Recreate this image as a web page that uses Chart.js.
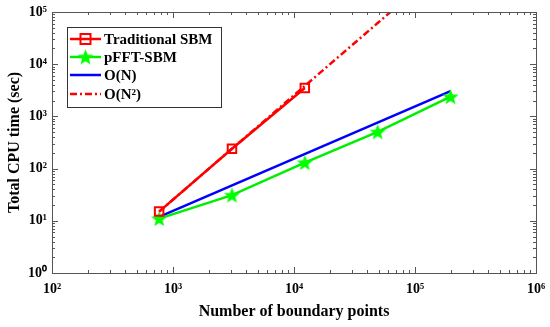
<!DOCTYPE html>
<html>
<head>
<meta charset="utf-8">
<script src="https://cdn.jsdelivr.net/npm/chart.js@4.4.1/dist/chart.umd.min.js"></script>
<style>
  html, body { margin: 0; padding: 0; background: #fff; }
  #wrap { width: 550px; height: 327px; }
</style>
</head>
<body>
<div id="wrap"><canvas id="cpuChart"></canvas></div>
<script>
// values
const tradN = [768, 3072, 12288];
const tradTime = [15, 240, 3500];
const pfftN = [768, 3072, 12288, 49152, 196608];
const pfftTime = [11, 31, 130, 505, 2380];
const linN = [768, 196608];
const linTime = [11.9, 3050];
const quadN = [768, 3072, 12288, 49152, 196608];
const quadTime = [15, 240, 3840, 61440, 983040];

const xTicks = [1e2, 1e3, 1e4, 1e5, 1e6];
const xTickLabels = ['10²', '10³', '10⁴', '10⁵', '10⁶'];
const yTicks = [1e0, 1e1, 1e2, 1e3, 1e4, 1e5];
const yTickLabels = ['10⁰', '10¹', '10²', '10³', '10⁴', '10⁵'];

const FONT = "'Liberation Serif', 'Times New Roman', serif";

const toPts = (xs, ys) => xs.map((x, i) => ({ x: x, y: ys[i] }));

// filled five point star used as marker
function makeStar(r, color) {
    const c = document.createElement('canvas');
    const s = Math.ceil(r * 2 + 2);
    c.width = s; c.height = s;
    const g = c.getContext('2d');
    g.fillStyle = color;
    g.beginPath();
    for (let i = 0; i < 10; i++) {
        const rad = i % 2 === 0 ? r : r * 0.42;
        const a = -Math.PI / 2 + i * Math.PI / 5;
        const px = s / 2 + rad * Math.cos(a), py = s / 2 + rad * Math.sin(a) + r * 0.08;
        if (i === 0) g.moveTo(px, py); else g.lineTo(px, py);
    }
    g.closePath();
    g.fill();
    return c;
}
const star = makeStar(8.5, '#00ff00');

// inward ticks on all four sides, box frame and legend
const framePlugin = {
    id: 'frame',
    afterDraw(chart) {
        const { ctx, chartArea: a, scales } = chart;
        ctx.save();
        ctx.strokeStyle = '#555';
        ctx.lineWidth = 1;
        const tick = (x1, y1, x2, y2) => {
            ctx.beginPath(); ctx.moveTo(x1, y1); ctx.lineTo(x2, y2); ctx.stroke();
        };
        const minors = (lo, hi) => {
            const out = [];
            for (let d = lo; d < hi; d *= 10)
                for (let k = 1; k < 10; k++) out.push({ v: d * k, major: k === 1 });
            out.push({ v: hi, major: true });
            return out;
        };
        minors(1e2, 1e6).forEach(t => {
            const px = Math.round(scales.x.getPixelForValue(t.v)) + 0.5;
            const len = t.major ? 6 : 3;
            tick(px, a.bottom, px, a.bottom - len);
            tick(px, a.top, px, a.top + len);
        });
        minors(1e0, 1e5).forEach(t => {
            const py = Math.round(scales.y.getPixelForValue(t.v)) + 0.5;
            const len = t.major ? 6 : 3;
            tick(a.left, py, a.left + len, py);
            tick(a.right, py, a.right - len, py);
        });
        ctx.strokeRect(Math.round(a.left) + 0.5, Math.round(a.top) + 0.5,
            Math.round(a.right - a.left), Math.round(a.bottom - a.top));

        // legend
        const lx = 67, ly = 27, lw = 154, lh = 80;
        ctx.fillStyle = '#fff';
        ctx.fillRect(lx, ly, lw, lh);
        ctx.strokeStyle = '#333';
        ctx.strokeRect(lx + 0.5, ly + 0.5, lw, lh);
        const rows = [39, 57, 75, 94];
        chart.data.datasets.forEach((ds, i) => {
            const y = rows[i];
            ctx.strokeStyle = ds.borderColor;
            ctx.lineWidth = ds.borderWidth;
            ctx.setLineDash(ds.borderDash || []);
            tick(70, y, 101, y);
            ctx.setLineDash([]);
            if (ds.pointStyle === 'rect') {
                ctx.lineWidth = 2;
                ctx.strokeStyle = ds.pointBorderColor;
                ctx.strokeRect(80.5, y - 5, 10, 10);
            } else if (ds.pointStyle instanceof HTMLCanvasElement) {
                const img = ds.pointStyle;
                ctx.drawImage(img, 85.5 - img.width / 2, y - img.height / 2);
            }
            ctx.fillStyle = '#000';
            ctx.font = "bold 15px " + FONT;
            ctx.textBaseline = 'middle';
            ctx.fillText(ds.label, 104, y + 1);
        });
        ctx.restore();
    }
};

new Chart(document.getElementById('cpuChart'), {
    type: 'line',
    data: {
        datasets: [
            {
                label: 'Traditional SBM',
                data: toPts(tradN, tradTime),
                borderColor: '#ff0000',
                borderWidth: 2.5,
                pointStyle: 'rect',
                pointRadius: 6,
                pointBorderColor: '#ff0000',
                pointBackgroundColor: 'rgba(0,0,0,0)',
                pointBorderWidth: 2,
                tension: 0
            },
            {
                label: 'pFFT-SBM',
                data: toPts(pfftN, pfftTime),
                borderColor: '#00ee00',
                borderWidth: 2.5,
                pointStyle: star,
                pointRadius: 8,
                tension: 0
            },
            {
                label: 'O(N)',
                data: toPts(linN, linTime),
                borderColor: '#0000ff',
                borderWidth: 2.5,
                pointRadius: 0,
                tension: 0
            },
            {
                label: 'O(N²)',
                data: toPts(quadN, quadTime),
                borderColor: '#ff0000',
                borderWidth: 2.5,
                borderDash: [7, 3, 2, 3],
                pointRadius: 0,
                tension: 0
            }
        ]
    },
    options: {
        responsive: true,
        maintainAspectRatio: false,
        animation: false,
        layout: { padding: { top: 12, right: 14, left: 0, bottom: 0 } },
        plugins: { legend: { display: false }, tooltip: { enabled: false } },
        scales: {
            x: {
                type: 'logarithmic',
                min: 1e2, max: 1e6,
                afterBuildTicks: s => { s.ticks = xTicks.map(v => ({ value: v })); },
                afterFit: s => { s.height = 54; s.paddingLeft = 0; s.paddingRight = 0; },
                grid: { display: false, drawTicks: false },
                border: { display: false },
                ticks: {
                    padding: 8,
                    color: '#000',
                    font: { family: FONT, size: 14, weight: 'bold' },
                    maxRotation: 0,
                    callback: (v) => xTickLabels[xTicks.indexOf(v)]
                },
                title: {
                    display: true,
                    text: 'Number of boundary points',
                    color: '#000',
                    font: { family: FONT, size: 16, weight: 'bold' },
                    padding: { top: 0, bottom: 6 }
                }
            },
            y: {
                type: 'logarithmic',
                min: 1e0, max: 1e5,
                afterBuildTicks: s => { s.ticks = yTicks.map(v => ({ value: v })); },
                afterFit: s => { s.width = 52; s.paddingTop = 0; s.paddingBottom = 0; },
                grid: { display: false, drawTicks: false },
                border: { display: false },
                ticks: {
                    padding: 5,
                    color: '#000',
                    font: { family: FONT, size: 14, weight: 'bold' },
                    callback: (v) => yTickLabels[yTicks.indexOf(v)]
                },
                title: {
                    display: true,
                    text: 'Total CPU time (sec)',
                    color: '#000',
                    font: { family: FONT, size: 16, weight: 'bold' },
                    padding: { top: 5, bottom: 0 }
                }
            }
        }
    },
    plugins: [framePlugin]
});
</script>
</body>
</html>
